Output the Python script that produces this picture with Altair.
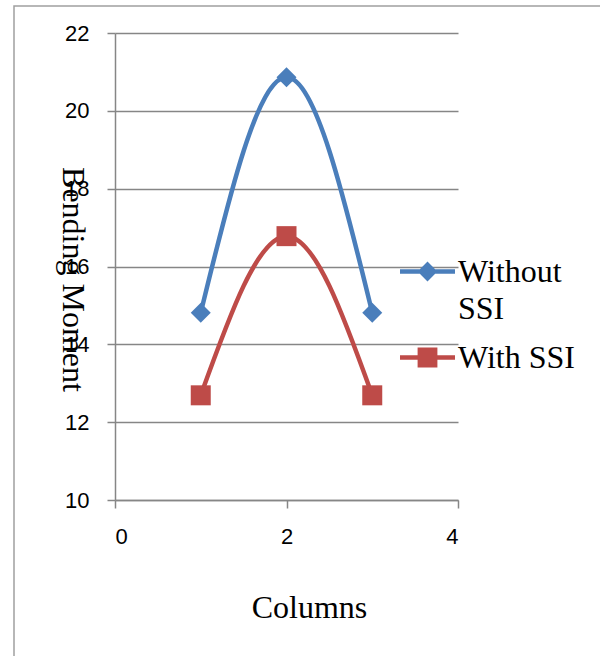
import altair as alt
import pandas as pd

# Bending moment per column, with and without soil-structure interaction
columns = [1, 2, 3]
without_ssi = [14.81, 20.86, 14.81]
with_ssi = [12.69, 16.78, 12.69]
series_names = ["Without SSI", "With SSI"]
series_markers = ["diamond", "square"]
series_colors = ["#4A7EBB", "#BE4B48"]
y_ticks = [10, 12, 14, 16, 18, 20, 22]
x_ticks = [0, 2, 4]

rows = []
for name, values in zip(series_names, [without_ssi, with_ssi]):
    for c, v in zip(columns, values):
        rows.append({"Columns": c, "Bending Moment": v, "Series": name})
df = pd.DataFrame(rows)

W, H = 343, 467
LEFT, TOP = 115, 33
GRAY = "#868686"
SERIF = "Liberation Serif"
SANS = "Liberation Sans"

# legend glyphs: a short thick line with the series marker in its middle
line_diamond = "M-1,-0.08H1V0.08H-1ZM-0.36,0L0,-0.36L0.36,0L0,0.36Z"
line_square = "M-1,-0.08H1V0.08H-1ZM-0.36,-0.36H0.36V0.36H-0.36Z"
legend_glyphs = [line_diamond, line_square]
legend_tops = [211, 297]

series_scale = alt.Scale(domain=series_names, range=series_colors)

x = alt.X(
    "Columns:Q",
    scale=alt.Scale(domain=[0, 4], nice=False, zero=False),
    axis=alt.Axis(
        values=x_ticks,
        grid=False,
        title="Columns",
        titleX=194,
        titleY=107,
        titleAlign="center",
        titleBaseline="middle",
        labelPadding=18,
    ),
)
y = alt.Y(
    "Bending Moment:Q",
    scale=alt.Scale(domain=[10, 22], nice=False, zero=False),
    axis=alt.Axis(
        values=y_ticks,
        grid=True,
        title="Bending Moment",
        titleAngle=90,
        titleX=-43,
        titleY=246,
        titleAlign="center",
        titleBaseline="middle",
        labelPadding=18,
    ),
)

base = alt.Chart(df)

lines = base.mark_line(
    interpolate="monotone", strokeWidth=4.5, strokeCap="round", strokeJoin="round"
).encode(x=x, y=y, stroke=alt.Stroke("Series:N", scale=series_scale, legend=None))

# one marker layer per series, each with its own marker shape
marker_layers = [
    base.transform_filter(alt.datum.Series == name)
    .mark_point(filled=True, size=400, opacity=1, shape=marker, strokeWidth=0)
    .encode(x=x, y=y, fill=alt.Fill("Series:N", scale=series_scale, legend=None))
    for name, marker in zip(series_names, series_markers)
]

# one legend entry per series; rows are filtered out so nothing is drawn in the plot
legend_layers = [
    base.transform_filter("false")
    .mark_point(filled=True, opacity=1, size=3025, color=col)
    .encode(
        x=x,
        y=y,
        fill=alt.value(col),
        shape=alt.Shape(
            "Series:N",
            scale=alt.Scale(domain=[name], range=[glyph]),
            legend=alt.Legend(
                orient="none",
                legendX=285,
                legendY=top,
                title=None,
                padding=0,
                symbolSize=3025,
                symbolStrokeWidth=0,
                symbolOpacity=1,
                labelFont=SERIF,
                labelFontSize=32,
                labelColor="black",
                labelOffset=3,
                labelLimit=300,
                labelExpr="datum.label == 'Without SSI' ? ['Without', 'SSI'] : datum.label",
            ),
        ),
    )
    for name, glyph, col, top in zip(series_names, legend_glyphs, series_colors, legend_tops)
]

frame = alt.Chart(alt.Data(values=[{}])).mark_rect(
    fill=None, stroke="#A0A0A0", strokeWidth=1.5
).encode(
    x=alt.value(-101), x2=alt.value(560), y=alt.value(-27), y2=alt.value(700)
)

chart = (
    alt.layer(frame, lines, *marker_layers, *legend_layers)
    .resolve_scale(shape="independent")
    .properties(
        width=W,
        height=H,
        autosize=alt.AutoSizeParams(type="none"),
        padding={"left": LEFT, "top": TOP, "right": 600 - LEFT - W, "bottom": 656 - TOP - H},
        background="white",
    )
    .configure(style={"guide-label": {"lineHeight": 37}})
    .configure_view(stroke=None)
    .configure_axis(
        domainColor=GRAY,
        domainWidth=1.5,
        tickColor=GRAY,
        tickWidth=1.5,
        tickSize=8,
        gridColor=GRAY,
        gridWidth=1.5,
        labelFont=SANS,
        labelFontSize=22,
        labelColor="black",
        titleFont=SERIF,
        titleFontSize=32,
        titleFontWeight="normal",
        titleColor="black",
    )
)

chart.save("out.html", embed_options={"renderer": "svg", "actions": False})
